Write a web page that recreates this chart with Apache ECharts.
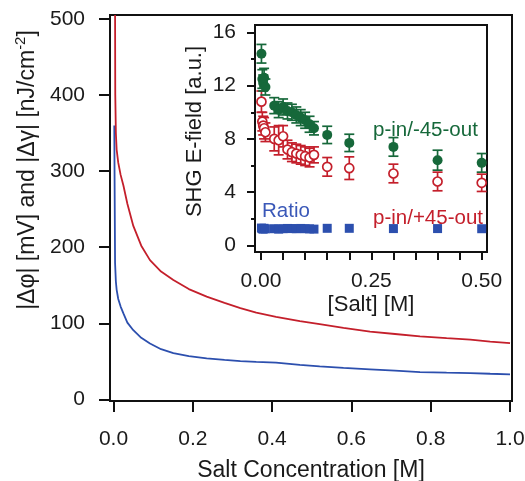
<!DOCTYPE html>
<html><head><meta charset="utf-8">
<script src="https://cdn.jsdelivr.net/npm/echarts@6/dist/echarts.min.js"></script>
<style>html,body{margin:0;padding:0;background:#fff}#c{width:525px;height:481px}</style>
</head><body><div id="c"></div>
<script>
// ---- main curves ----
const redX  = [0.004, 0.0045, 0.006, 0.008, 0.012, 0.018, 0.025, 0.035, 0.05, 0.07, 0.092, 0.12, 0.151, 0.19, 0.235, 0.28, 0.32, 0.36, 0.41, 0.47, 0.52, 0.58, 0.647, 0.71, 0.773, 0.84, 0.9, 0.95, 1.0];
const redY  = [505, 400, 350, 328, 311, 295, 281, 257, 228, 202, 183, 168, 157, 145, 135, 127, 120, 114, 108.6, 103, 99, 94, 89, 86, 83, 80.5, 78.5, 76, 74];
const blueX = [0.002, 0.004, 0.006, 0.008, 0.012, 0.018, 0.025, 0.035, 0.05, 0.07, 0.092, 0.12, 0.151, 0.19, 0.235, 0.28, 0.32, 0.36, 0.41, 0.47, 0.52, 0.58, 0.647, 0.71, 0.773, 0.84, 0.9, 0.95, 1.0];
const blueY = [360, 179, 155, 144, 132, 122, 113, 101, 91, 81, 73.5, 66, 61, 57, 54, 52, 50.5, 49.5, 48.5, 45.5, 43.5, 41.5, 39.6, 37.8, 36, 35.2, 34.7, 33.8, 33];

// ---- inset data ----
const inX      = [0.001, 0.003, 0.005, 0.007, 0.010, 0.030, 0.040, 0.050, 0.060, 0.070, 0.080, 0.090, 0.100, 0.110, 0.120, 0.150, 0.200, 0.300, 0.400, 0.500];
const greenY   = [14.4, 12.5, 12.2, 12.6, 11.9, 10.5, 10.2, 10.4, 10.1, 10.0, 9.8, 9.6, 9.4, 9.1, 8.8, 8.3, 7.7, 7.4, 6.4, 6.2];
const greenErr = [0.7, 0.7, 0.6, 0.7, 0.6, 0.6, 0.6, 0.6, 0.6, 0.6, 0.6, 0.6, 0.6, 0.6, 0.5, 0.65, 0.65, 0.7, 0.75, 0.7];
const redInY   = [10.8, 9.3, 9.0, 8.8, 8.5, 8.0, 7.9, 8.2, 7.2, 7.0, 6.9, 6.8, 6.7, 6.6, 6.8, 5.9, 5.8, 5.4, 4.8, 4.7];
const redErr   = [0.8, 0.7, 0.7, 0.8, 0.7, 0.9, 1.1, 0.8, 0.7, 0.7, 0.7, 0.7, 0.7, 0.7, 0.6, 0.7, 0.85, 0.7, 0.7, 0.65];
const ratioY   = [1.30, 1.25, 1.22, 1.28, 1.24, 1.25, 1.22, 1.25, 1.27, 1.26, 1.25, 1.27, 1.25, 1.24, 1.22, 1.28, 1.28, 1.26, 1.26, 1.25];

// ---- ticks ----
const mainXTicks  = [0, 0.2, 0.4, 0.6, 0.8, 1.0];
const mainYTicks  = [0, 100, 200, 300, 400, 500];
const inXTicks    = [0, 0.05, 0.1, 0.15, 0.2, 0.25, 0.3, 0.35, 0.4, 0.45, 0.5];
const inXLabels   = [0, 0.25, 0.5];
const inYMajor    = [0, 4, 8, 12, 16];
const inYMinor    = [2, 6, 10, 14];

const C_RED = '#c41f2b', C_BLUE = '#2c4fae', C_GREEN = '#16683a', C_RATIO = '#3a58b8';
const FONT = 'Liberation Sans, Arial, sans-serif';
const TXT = '#1a1a1a';

const zip = (a, b) => a.map((v, i) => [v, b[i]]);
const zip3 = (a, b, c) => a.map((v, i) => [v, b[i], c[i]]);

function errBars(color) {
  return function (params, api) {
    const x = api.value(0), y = api.value(1), e = api.value(2);
    const lo = api.coord([x, y - e]), hi = api.coord([x, y + e]);
    const w = 5, st = { stroke: color, lineWidth: 1.7 };
    return { type: 'group', children: [
      { type: 'line', shape: { x1: lo[0], y1: lo[1], x2: hi[0], y2: hi[1] }, style: st },
      { type: 'line', shape: { x1: lo[0] - w, y1: lo[1], x2: lo[0] + w, y2: lo[1] }, style: st },
      { type: 'line', shape: { x1: hi[0] - w, y1: hi[1], x2: hi[0] + w, y2: hi[1] }, style: st }
    ]};
  };
}

const axLine = { show: true, onZero: false, lineStyle: { color: '#111', width: 2 } };
const lab = (extra) => Object.assign({ fontSize: 21, color: TXT, fontFamily: FONT }, extra);

const chart = echarts.init(document.getElementById('c'), null, { renderer: 'canvas' });
chart.setOption({
  animation: false,
  backgroundColor: '#fff',
  grid: [
    { left: 110, top: 15, right: 13, bottom: 80, outerBoundsMode: 'none', containLabel: false,
      show: true, borderColor: '#111', borderWidth: 2, backgroundColor: 'transparent' },
    { left: 255, top: 25, right: 38, bottom: 229, outerBoundsMode: 'none', containLabel: false,
      show: true, borderColor: '#111', borderWidth: 2, backgroundColor: '#fff' }
  ],
  xAxis: [
    { gridIndex: 0, type: 'value', min: -0.0088, max: 1.005, axisLine: axLine, splitLine: { show: false },
      axisTick: { customValues: mainXTicks, length: 11, lineStyle: { color: '#111', width: 2 } },
      axisLabel: lab({ customValues: mainXTicks, margin: 28, formatter: v => v.toFixed(1) }),
      name: 'Salt Concentration [M]', nameLocation: 'middle', nameGap: 58,
      nameTextStyle: { fontSize: 23, color: TXT, fontFamily: FONT } },
    { gridIndex: 1, type: 'value', min: -0.0136, max: 0.512, axisLine: axLine, splitLine: { show: false },
      axisTick: { customValues: inXTicks, length: 8, lineStyle: { color: '#111', width: 2 } },
      axisLabel: lab({ customValues: inXLabels, margin: 19, formatter: v => v.toFixed(2) }),
      name: '[Salt] [M]', nameLocation: 'middle', nameGap: 42,
      nameTextStyle: { fontSize: 22, color: TXT, fontFamily: FONT } }
  ],
  yAxis: [
    { gridIndex: 0, type: 'value', min: -2, max: 505, axisLine: axLine, splitLine: { show: false },
      axisTick: { customValues: mainYTicks, length: 11, lineStyle: { color: '#111', width: 2 } },
      axisLabel: lab({ customValues: mainYTicks, margin: 25 }),
      name: '{t||Δφ| [mV] and |Δγ| [nJ/cm}{s|-2}{t|]}', nameLocation: 'middle', nameGap: 71,
      nameTextStyle: { padding: [0, 0, 0, 76], rich: {
        t: { fontSize: 23, color: TXT, fontFamily: FONT, lineHeight: 26, verticalAlign: 'bottom' },
        s: { fontSize: 15, color: TXT, fontFamily: FONT, lineHeight: 26, verticalAlign: 'top' } } } },
    { gridIndex: 1, type: 'value', min: -0.5, max: 16.56, axisLine: axLine, splitLine: { show: false },
      axisTick: { customValues: inYMajor, length: 8, lineStyle: { color: '#111', width: 2 } },
      axisLabel: lab({ customValues: inYMajor, margin: 19 }),
      name: 'SHG E-field [a.u.]', nameLocation: 'middle', nameGap: 49,
      nameTextStyle: { fontSize: 22, color: TXT, fontFamily: FONT, padding: [0, 0, 0, 14] } },
    { gridIndex: 1, type: 'value', position: 'left', min: -0.5, max: 16.56, axisLine: axLine, splitLine: { show: false },
      axisTick: { customValues: inYMinor, length: 4, lineStyle: { color: '#111', width: 2 } },
      axisLabel: { show: false } }
  ],
  series: [
    { type: 'line', xAxisIndex: 0, yAxisIndex: 0, data: zip(blueX, blueY), showSymbol: false,
      lineStyle: { color: C_BLUE, width: 1.8 }, z: 2 },
    { type: 'line', xAxisIndex: 0, yAxisIndex: 0, data: zip(redX, redY), showSymbol: false,
      lineStyle: { color: C_RED, width: 1.8 }, z: 2 },
    { type: 'custom', xAxisIndex: 1, yAxisIndex: 1, data: zip3(inX, redInY, redErr),
      renderItem: errBars(C_RED), z: 3 },
    { type: 'scatter', xAxisIndex: 1, yAxisIndex: 1, data: zip(inX, redInY), symbol: 'circle', symbolSize: 9,
      itemStyle: { color: '#fff', borderColor: C_RED, borderWidth: 1.7, opacity: 1 }, z: 4 },
    { type: 'custom', xAxisIndex: 1, yAxisIndex: 1, data: zip3(inX, greenY, greenErr),
      renderItem: errBars(C_GREEN), z: 5 },
    { type: 'scatter', xAxisIndex: 1, yAxisIndex: 1, data: zip(inX, greenY), symbol: 'circle', symbolSize: 10,
      itemStyle: { color: C_GREEN, opacity: 1 }, z: 6 },
    { type: 'scatter', xAxisIndex: 1, yAxisIndex: 1, data: zip(inX, ratioY), symbol: 'rect', symbolSize: 9,
      itemStyle: { color: C_BLUE, opacity: 1 }, z: 7 }
  ],
  graphic: [
    { type: 'text', x: 373, y: 130, z: 10, style: { text: 'p-in/-45-out', fill: C_GREEN, font: '20.5px ' + FONT, verticalAlign: 'middle' } },
    { type: 'text', x: 373, y: 218, z: 10, style: { text: 'p-in/+45-out', fill: C_RED, font: '20.5px ' + FONT, verticalAlign: 'middle' } },
    { type: 'text', x: 262, y: 211, z: 10, style: { text: 'Ratio', fill: C_RATIO, font: '20.5px ' + FONT, verticalAlign: 'middle' } }
  ]
});
</script></body></html>
